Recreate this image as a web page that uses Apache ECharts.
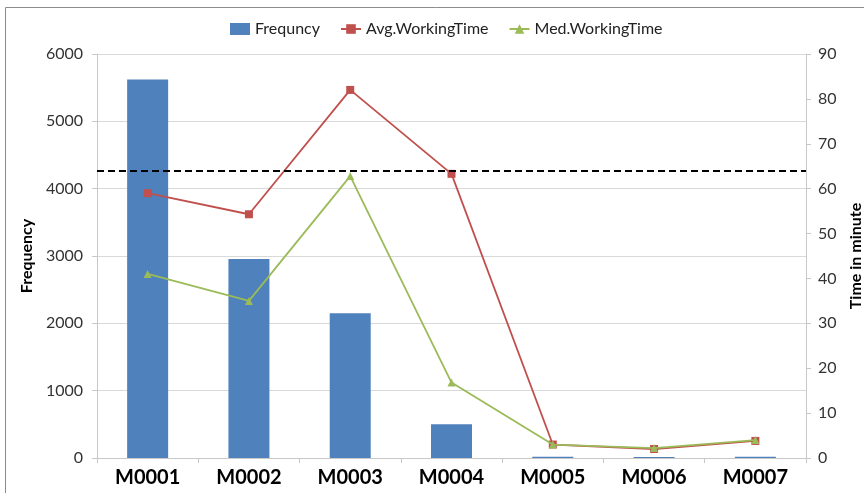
<!DOCTYPE html>
<html>
<head>
<meta charset="utf-8">
<script src="https://cdn.jsdelivr.net/npm/echarts@6/dist/echarts.min.js"></script>
<style>
  html, body { margin: 0; padding: 0; background: #fff; }
  #chart { width: 864px; height: 493px; }
</style>
</head>
<body>
<div id="chart"></div>
<script>
// Machine codes on the category axis
const machines = ['M0001', 'M0002', 'M0003', 'M0004', 'M0005', 'M0006', 'M0007'];
// Number of jobs per machine (left axis)
const frequency = [5620, 2955, 2150, 500, 20, 15, 20];
// Working time in minutes (right axis)
const avgWorkingTime = [59, 54.3, 82, 63.3, 3, 2, 3.8];
const medWorkingTime = [41, 35, 62.8, 16.8, 3, 2.2, 4];
// Reference level drawn as a dashed line (minutes)
const thresholdMinutes = [64];

const font = 'Lato, "Open Sans", "Liberation Sans", sans-serif';

const chart = echarts.init(document.getElementById('chart'), null, { renderer: 'canvas' });

chart.setOption({
  backgroundColor: '#ffffff',
  animation: false,
  textStyle: { fontFamily: font },
  graphic: [{
    type: 'rect',
    shape: { x: 5.5, y: 7.5, width: 900, height: 600 },
    style: { fill: 'none', stroke: '#8c8c8c', lineWidth: 1 },
    silent: true
  }],
  legend: {
    top: 16,
    left: 225,
    itemGap: 20,
    itemWidth: 20,
    itemHeight: 12,
    textStyle: { fontFamily: font, fontSize: 16, color: '#222' },
    data: [
      { name: 'Frequncy', icon: 'rect', itemStyle: { color: '#4F81BD' } },
      { name: 'Avg.WorkingTime' },
      { name: 'Med.WorkingTime' }
    ]
  },
  grid: { left: 97, right: 58, top: 54, bottom: 35, containLabel: false, outerBoundsMode: 'none' },
  xAxis: {
    type: 'category',
    data: machines,
    axisLine: { show: true, lineStyle: { color: '#c8c8c8', width: 1 } },
    axisTick: { show: true, length: 5, lineStyle: { color: '#c8c8c8' } },
    axisLabel: {
      fontFamily: font, fontSize: 20, fontWeight: 'bold', color: '#000',
      margin: 10
    }
  },
  yAxis: [
    {
      type: 'value',
      min: 0, max: 6000, interval: 1000,
      name: 'Frequency',
      nameLocation: 'middle',
      nameGap: 60,
      nameRotate: 90,
      nameTextStyle: { fontFamily: font, fontSize: 16, fontWeight: 'bold', color: '#000' },
      axisLine: { show: true, lineStyle: { color: '#c8c8c8' } },
      axisTick: { show: true, length: 5, lineStyle: { color: '#c8c8c8' } },
      axisLabel: {
        fontFamily: font, fontSize: 16, color: '#333', margin: 14,
        formatter: v => String(v)
      },
      splitLine: { show: true, lineStyle: { color: '#d9d9d9', width: 1 } }
    },
    {
      type: 'value',
      min: 0, max: 90, interval: 10,
      position: 'right',
      name: 'Time in minute',
      nameLocation: 'middle',
      nameGap: 42,
      nameRotate: 90,
      nameTextStyle: { fontFamily: font, fontSize: 16, fontWeight: 'bold', color: '#000' },
      axisLine: { show: true, lineStyle: { color: '#c8c8c8' } },
      axisTick: { show: true, length: 5, lineStyle: { color: '#c8c8c8' } },
      axisLabel: { fontFamily: font, fontSize: 16, color: '#333', margin: 12 },
      splitLine: { show: false }
    }
  ],
  series: [
    {
      name: 'Frequncy',
      type: 'bar',
      yAxisIndex: 0,
      data: frequency,
      barWidth: 41,
      itemStyle: { color: '#4F81BD' }
    },
    {
      name: 'Avg.WorkingTime',
      type: 'line',
      yAxisIndex: 1,
      data: avgWorkingTime,
      symbol: 'rect',
      symbolSize: 8,
      lineStyle: { color: '#C0504D', width: 1.8 },
      itemStyle: { color: '#C0504D' },
      markLine: {
        silent: true,
        symbol: ['none', 'none'],
        label: { show: false },
        lineStyle: { color: '#000', type: [7, 4], width: 2 },
        data: thresholdMinutes.map(v => ({ yAxis: v }))
      },
      z: 3
    },
    {
      name: 'Med.WorkingTime',
      type: 'line',
      yAxisIndex: 1,
      data: medWorkingTime,
      symbol: 'triangle',
      symbolSize: 8,
      lineStyle: { color: '#9BBB59', width: 1.8 },
      itemStyle: { color: '#9BBB59' },
      z: 4
    }
  ]
});
</script>
</body>
</html>
